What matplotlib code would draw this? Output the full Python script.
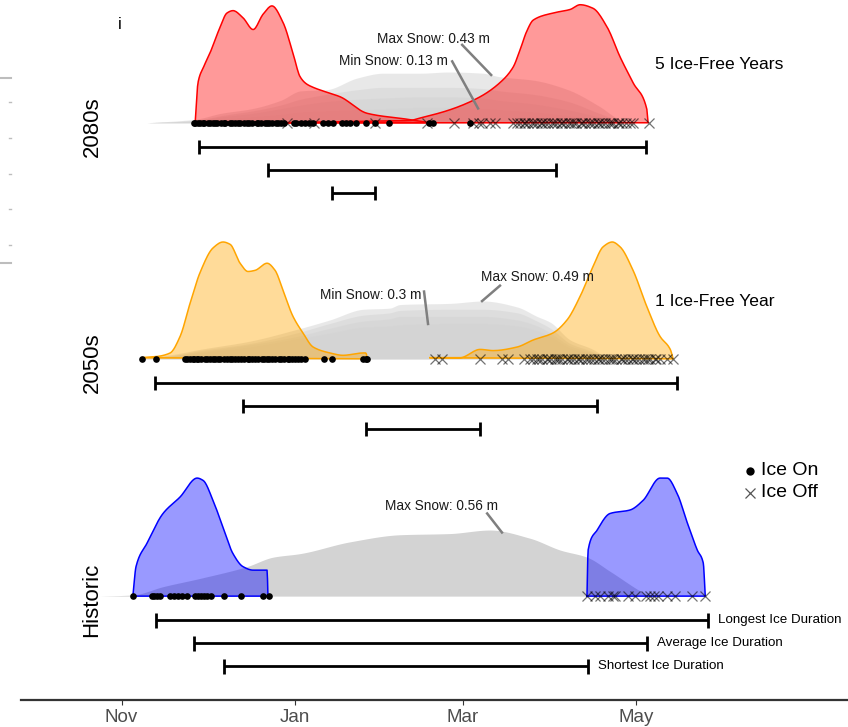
"""
Ice phenology figure: ice-on and ice-off timing, ice duration ranges and
snow depth for the historic record and the 2050s and 2080s projections.
Days are counted from 1 November.
"""

import numpy as np
import matplotlib
matplotlib.use("Agg")  # headless backend
import matplotlib.pyplot as plt
from matplotlib.colors import to_rgba
from matplotlib.lines import Line2D

plt.rcParams["font.family"] = ["Liberation Sans", "DejaVu Sans"]

# ---------------------------------------------------------------- data
MONTH_TICKS = [0, 61, 120, 181]
MONTH_LABELS = ["Nov", "Jan", "Mar", "May"]

PERIODS = ["2080s", "2050s", "Historic"]
PERIOD_COLOURS = {"2080s": "red", "2050s": "orange", "Historic": "blue"}
ICE_FREE_TEXT = {"2080s": "5 Ice-Free Years", "2050s": "1 Ice-Free Year"}
DURATION_LABELS = ["Longest Ice Duration", "Average Ice Duration",
                   "Shortest Ice Duration"]

# 2080s
ON_2080 = [25.5, 26, 27, 27.5, 28.5, 29, 30.5, 31, 32, 33, 33.5, 35, 36, 36.5,
           38, 39, 40, 41, 41.5, 43, 44, 45, 46, 47.5, 48, 49, 50.5, 51, 52,
           53, 54.5, 55, 56, 57, 60.5, 61.5, 63, 64.5, 66, 67.5, 71, 72.5,
           74.5, 77.6, 79, 80.5, 82.5, 86.1, 89.2, 94.1, 108.2, 109.6, 122.6]
OFF_2080 = [58.2, 67.7, 89.2, 107.5, 117.0, 123.6, 125.8, 126.8, 129.6, 131.4,
            137.7, 139, 140, 141.5, 142, 143, 144.5, 145, 146, 147.5, 148, 149,
            150, 151.5, 152, 153, 154.5, 155, 156, 157.5, 158, 159, 160, 161.5,
            162, 163, 164.5, 165, 166, 167.5, 168, 169, 170, 171.5, 172, 173,
            174.5, 175, 176, 177.5, 178.9, 179.9, 185.6]
ON_DENS_DAY_2080 = [25.9, 26.9, 29.0, 31.1, 34.5, 37.1, 39.2, 42.7, 46.3, 49.8,
                    52.9, 56.8, 60.3, 62.8, 65.0, 67.4, 72.0, 76.9, 86.4,
                    100.4, 108.5]
ON_DENS_2080 = [0, 0.34, 0.48, 0.59, 0.80, 0.93, 0.95, 0.89, 0.79, 0.92, 0.99,
                0.85, 0.59, 0.39, 0.33, 0.30, 0.26, 0.22, 0.08, 0.03, 0.0]
OFF_DENS_DAY_2080 = [54.0, 80.4, 101.5, 105.0, 115.5, 126.1, 133.1, 137.7,
                     140.2, 142.6, 144.8, 151.8, 157.8, 161.3, 165.8, 170.8,
                     175.3, 179.9, 184.8, 185.2]
OFF_DENS_2080 = [0.0, 0.01, 0.02, 0.04, 0.11, 0.22, 0.34, 0.47, 0.62, 0.78,
                 0.87, 0.93, 0.96, 1.00, 0.97, 0.81, 0.56, 0.34, 0.11, 0.0]
SNOW_DAY_2080 = [9, 26, 35, 46, 56, 63, 72, 83, 92, 105, 115, 127, 133, 145,
                 157, 168, 175, 179]
SNOW_MAX_2080 = [0, .03, .08, .12, .19, .27, .28, .38, .42, .42, .43, .42, .39,
                 .36, .28, .14, .03, 0]
SNOW_MID1_2080 = [0, .02, .06, .10, .15, .20, .24, .28, .30, .30, .30, .29,
                  .27, .24, .18, .08, .02, 0]
SNOW_MID2_2080 = [0, .02, .05, .08, .12, .15, .18, .20, .21, .22, .22, .21,
                  .19, .16, .11, .05, .01, 0]
SNOW_MIN_2080 = [0, .01, .03, .05, .07, .09, .10, .11, .12, .13, .13, .12, .11,
                 .09, .06, .03, .01, 0]
DUR_START_2080 = [27.3, 51.5, 74.0]
DUR_END_2080 = [184.6, 152.8, 89.2]

# 2050s
ON_2050 = [7.1, 12.0, 22.3, 23, 24, 25, 25.5, 26.5, 27, 28, 29.5, 30, 31, 32,
           33, 34, 34.5, 36, 37, 38, 39, 40, 41, 42, 43, 44.5, 45, 46, 47, 48,
           49.5, 50, 51, 52, 53, 54, 55.5, 56, 57, 58.5, 59, 60, 61, 62, 63,
           64.6, 71.3, 74.0, 85.0, 86.0, 86.5]
OFF_2050 = [110.3, 112.6, 126.1, 133.7, 136.0, 141.4, 143.7, 144.8, 146, 147,
            148, 149.5, 150, 151, 152.5, 153, 154, 155, 156.5, 157, 158, 159,
            160.5, 161, 162, 163.5, 164, 165, 166, 167.5, 168, 169, 170, 171.5,
            172, 173, 174, 175.5, 176, 177, 178, 179.5, 180, 181, 182, 183.5,
            184, 185, 186, 187.5, 188, 189.4, 191.9, 194.0]
ON_DENS_DAY_2050 = [7.2, 12.5, 17.1, 20.6, 24.1, 27.6, 32.2, 35.7, 38.2, 41.7,
                    44.5, 47.0, 51.2, 54.0, 56.8, 60.3, 63.8, 67.4, 73.3, 77.9,
                    85.0, 86.0, 86.4]
ON_DENS_2050 = [0.01, 0.02, 0.05, 0.19, 0.47, 0.73, 0.94, 0.99, 0.97, 0.81,
                0.74, 0.75, 0.81, 0.75, 0.58, 0.36, 0.22, 0.10, 0.05, 0.03,
                0.05, 0.05, 0.0]
OFF_DENS_DAY_2050 = [108.5, 119.1, 126.1, 130.7, 139.1, 144.8, 151.8, 156.7,
                     161.3, 165.8, 169.4, 172.6, 175.3, 179.9, 184.8, 189.4,
                     193.0, 194.0]
OFF_DENS_2050 = [0.01, 0.01, 0.08, 0.07, 0.10, 0.16, 0.22, 0.33, 0.53, 0.78,
                 0.95, 0.99, 0.95, 0.75, 0.44, 0.19, 0.08, 0.0]
SNOW_DAY_2050 = [6.5, 18.8, 27.6, 45.2, 61.7, 73.3, 85.0, 94.4, 97.9, 115.5,
                 127.1, 139.1, 146.1, 150.8, 157.8, 165.8, 170.8]
SNOW_MAX_2050 = [0, .04, .08, .15, .25, .33, .42, .43, .46, .47, .49, .44, .36,
                 .31, .16, .08, 0]
SNOW_MID1_2050 = [0, .03, .07, .13, .22, .30, .37, .39, .41, .42, .42, .39,
                  .32, .26, .13, .06, 0]
SNOW_MID2_2050 = [0, .03, .06, .12, .19, .26, .32, .34, .36, .36, .36, .33,
                  .28, .22, .11, .05, 0]
SNOW_MIN_2050 = [0, .02, .05, .10, .17, .22, .27, .28, .29, .30, .30, .28, .24,
                 .19, .09, .04, 0]
DUR_START_2050 = [11.8, 42.7, 86.0]
DUR_END_2050 = [195.4, 167.3, 126.1]

# Historic
ON_HIST = [3.9, 10.6, 11.5, 12.5, 13.6, 17.1, 18.5, 19.9, 21.3, 23.1, 26.0,
           27.0, 28.0, 29.0, 30.0, 31.5, 36.1, 41.9, 49.7, 51.9]
OFF_HIST = [163.6, 166.5, 168.3, 171.0, 172.8, 173.7, 178.2, 180.7, 184.4,
            185.8, 187.2, 188.6, 192.0, 194.7, 200.6, 205.3]
ON_DENS_DAY_HIST = [4.0, 5.1, 9.0, 14.6, 20.6, 26.6, 28.7, 32.2, 35.7, 39.2,
                    42.7, 46.3, 51.2, 51.5]
ON_DENS_HIST = [0, 0.25, 0.45, 0.70, 0.84, 1.00, 0.98, 0.81, 0.58, 0.36, 0.25,
                0.22, 0.22, 0]
OFF_DENS_DAY_HIST = [163.7, 164.1, 167.3, 171.8, 178.9, 183.4, 189.4, 191.9,
                     195.4, 199.0, 202.5, 204.6, 205.3]
OFF_DENS_HIST = [0, 0.39, 0.56, 0.70, 0.73, 0.81, 1.00, 1.00, 0.87, 0.62, 0.39,
                 0.28, 0]
SNOW_DAY_HIST = [-7.6, 4.0, 14.6, 27.6, 44.1, 53.3, 62.8, 80.4, 98.0, 115.5,
                 129.6, 143.7, 154.3, 163.7, 171.8, 183.4, 185.9]
SNOW_HIST = [0, .01, .08, .15, .25, .33, .36, .46, .52, .53, .56, .49, .39,
             .33, .21, .03, 0]
DUR_START_HIST = [12.0, 25.5, 36.1]
DUR_END_HIST = [206.3, 184.8, 164.1]

# ---------------------------------------------------------------- layout
BASELINE = {"2080s": 4.89, "2050s": 2.89, "Historic": 0.88}
BAR_DROP = [0.205, 0.40, 0.595]
CAP = 0.062


def smooth_curve(x, y, n=300):
    """Monotone cubic (Fritsch-Carlson) through the read points, for drawing."""
    x = np.asarray(x, float)
    y = np.asarray(y, float)
    h = np.diff(x)
    d = np.diff(y) / h
    m = np.zeros_like(y)
    m[0], m[-1] = d[0], d[-1]
    for k in range(1, len(x) - 1):
        if d[k - 1] * d[k] > 0:
            w1 = 2 * h[k] + h[k - 1]
            w2 = h[k] + 2 * h[k - 1]
            m[k] = (w1 + w2) / (w1 / d[k - 1] + w2 / d[k])
    xs = np.linspace(x[0], x[-1], n)
    i = np.clip(np.searchsorted(x, xs) - 1, 0, len(h) - 1)
    t = (xs - x[i]) / h[i]
    h00 = 2 * t**3 - 3 * t**2 + 1
    h10 = t**3 - 2 * t**2 + t
    h01 = -2 * t**3 + 3 * t**2
    h11 = t**3 - t**2
    ys = h00 * y[i] + h10 * h[i] * m[i] + h01 * y[i + 1] + h11 * h[i] * m[i + 1]
    return xs, np.maximum(ys, 0)


def draw_density(ax, days, dens, base, colour):
    xs, ys = smooth_curve(days, dens)
    top = base + ys
    ax.fill_between(xs, base, top, facecolor=to_rgba(colour, 0.4),
                    edgecolor="none", zorder=2)
    ax.plot(np.r_[xs, xs[0]], np.r_[top, top[0]], color=colour, lw=1.1,
            zorder=2.1)


def draw_snow(ax, days, layers, base, alpha):
    for layer in layers:
        xs, ys = smooth_curve(days, layer)
        ax.fill_between(xs, base, base + ys, color="#d3d3d3", alpha=alpha,
                        lw=0, zorder=1)


def draw_durations(ax, starts, ends, base, labels=None):
    for i, (s, e) in enumerate(zip(starts, ends)):
        y = base - BAR_DROP[i]
        ax.plot([s, e], [y, y], color="black", lw=2.0, zorder=3,
                solid_capstyle="butt")
        ax.vlines([s, e], y - CAP, y + CAP, color="black", lw=2.0, zorder=3)
        if labels:
            ax.text(e + 3.5, y, labels[i], ha="left", va="center",
                    fontsize=9.6)


def draw_marks(ax, on_days, off_days, base):
    ax.plot(on_days, [base] * len(on_days), "o", color="black", ms=4.8,
            mew=0, zorder=4)
    ax.plot(off_days, [base] * len(off_days), "x", color="black", alpha=0.55,
            ms=7, mew=0.9, zorder=4)


def snow_note(ax, text, text_xy, line_start, day, days, layer, base):
    y = base + np.interp(day, days, layer)
    ax.plot([line_start[0], day], [line_start[1], y], color="#7f7f7f",
            lw=1.8, zorder=5)
    ax.text(text_xy[0], text_xy[1], text, ha="center", va="center",
            fontsize=9.8, color="#1a1a1a", zorder=6)


fig = plt.figure(figsize=(8.48, 7.27), dpi=100)
ax = fig.add_axes([21 / 848, 27 / 727, 827 / 848, 700 / 727])
ax.set_xlim(-35.35, 255.5)
ax.set_ylim(0, 5.93)

# 2080s
b = BASELINE["2080s"]
draw_snow(ax, SNOW_DAY_2080, [SNOW_MAX_2080, SNOW_MID1_2080, SNOW_MID2_2080,
                              SNOW_MIN_2080], b, 0.5)
draw_density(ax, ON_DENS_DAY_2080, ON_DENS_2080, b, PERIOD_COLOURS["2080s"])
draw_density(ax, OFF_DENS_DAY_2080, OFF_DENS_2080, b, PERIOD_COLOURS["2080s"])
draw_marks(ax, ON_2080, OFF_2080, b)
draw_durations(ax, DUR_START_2080, DUR_END_2080, b)
snow_note(ax, "Max Snow: 0.43 m", (109.7, b + 0.71), (119.8, b + 0.66),
          130.0, SNOW_DAY_2080, SNOW_MAX_2080, b)
snow_note(ax, "Min Snow: 0.13 m", (95.6, b + 0.52), (116.3, b + 0.52),
          125.4, SNOW_DAY_2080, SNOW_MIN_2080, b)

# 2050s
b = BASELINE["2050s"]
draw_snow(ax, SNOW_DAY_2050, [SNOW_MAX_2050, SNOW_MID1_2050, SNOW_MID2_2050,
                              SNOW_MIN_2050], b, 0.5)
draw_density(ax, ON_DENS_DAY_2050, ON_DENS_2050, b, PERIOD_COLOURS["2050s"])
draw_density(ax, OFF_DENS_DAY_2050, OFF_DENS_2050, b, PERIOD_COLOURS["2050s"])
draw_marks(ax, ON_2050, OFF_2050, b)
draw_durations(ax, DUR_START_2050, DUR_END_2050, b)
snow_note(ax, "Min Snow: 0.3 m", (87.8, b + 0.54), (106.4, b + 0.57),
          107.8, SNOW_DAY_2050, SNOW_MIN_2050, b)
snow_note(ax, "Max Snow: 0.49 m", (146.2, b + 0.69), (133.1, b + 0.62),
          126.8, SNOW_DAY_2050, SNOW_MAX_2050, b)

# Historic
b = BASELINE["Historic"]
draw_snow(ax, SNOW_DAY_HIST, [SNOW_HIST], b, 1.0)
draw_density(ax, ON_DENS_DAY_HIST, ON_DENS_HIST, b, PERIOD_COLOURS["Historic"])
draw_density(ax, OFF_DENS_DAY_HIST, OFF_DENS_HIST, b, PERIOD_COLOURS["Historic"])
draw_marks(ax, ON_HIST, OFF_HIST, b)
draw_durations(ax, DUR_START_HIST, DUR_END_HIST, b, DURATION_LABELS)
snow_note(ax, "Max Snow: 0.56 m", (112.7, b + 0.76), (128.6, b + 0.70),
          133.8, SNOW_DAY_HIST, SNOW_HIST, b)

# period labels and ice-free counts
for p in PERIODS:
    ax.text(-10.4, BASELINE[p] - 0.03, p, rotation=90, ha="center",
            va="center", fontsize=16)
    if p in ICE_FREE_TEXT:
        ax.text(187.7, BASELINE[p] + 0.49, ICE_FREE_TEXT[p], ha="left",
                va="center", fontsize=12.6)

ax.text(-0.5, 5.72, "i", ha="center", va="center", fontsize=12)

# legend
ax.plot([221], [1.94], "o", color="black", ms=6, mew=0)
ax.plot([221], [1.755], "x", color="#555555", ms=6.5, mew=0.9)
ax.text(224.8, 1.94, "Ice On", ha="left", va="center", fontsize=14)
ax.text(224.8, 1.755, "Ice Off", ha="left", va="center", fontsize=14)

# axes styling
for side in ["left", "right", "top"]:
    ax.spines[side].set_visible(False)
ax.spines["bottom"].set_color("#333333")
ax.spines["bottom"].set_linewidth(1.6)
ax.set_yticks([])
ax.set_xticks(MONTH_TICKS)
ax.set_xticklabels(MONTH_LABELS)
ax.tick_params(axis="x", length=3.5, width=0.8, color="#333333",
               labelcolor="#4d4d4d", labelsize=13.5, pad=3)

# small grey marks on the left edge
for y in [78, 263]:
    fig.add_artist(Line2D([0, 11 / 848], [1 - y / 727] * 2, color="#bdbdbd",
                          lw=1.5, transform=fig.transFigure))
for y in [102, 138, 174, 209, 245]:
    fig.add_artist(Line2D([9 / 848, 11 / 848], [1 - y / 727] * 2,
                          color="#bdbdbd", lw=1.0, transform=fig.transFigure))

fig.savefig("out.png", dpi=100)
plt.close(fig)
